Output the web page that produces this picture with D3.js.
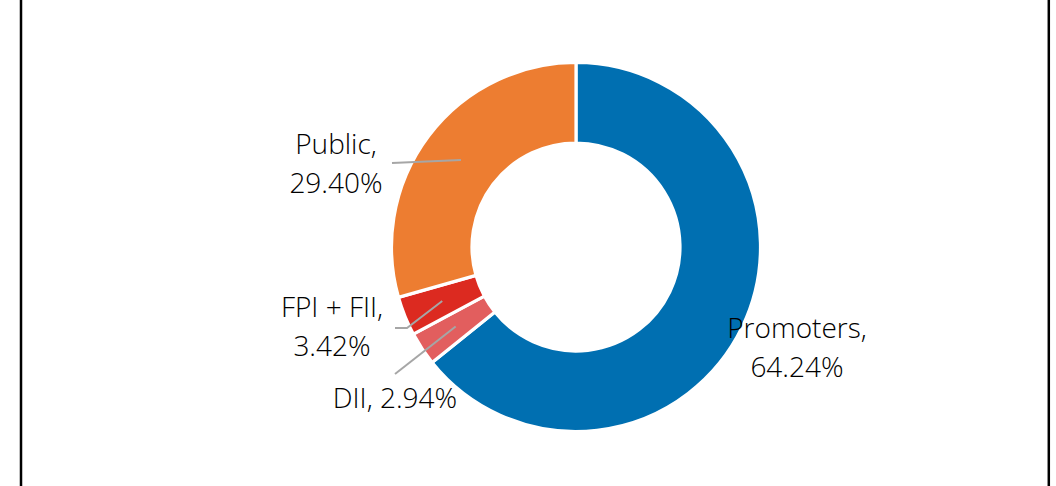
<!DOCTYPE html>
<html>
<head>
<meta charset="utf-8">
<script src="https://cdn.jsdelivr.net/npm/d3@7"></script>
<style>
  html, body { margin: 0; padding: 0; background: #fff; }
  svg { display: block; }
</style>
</head>
<body>
<svg id="chart" width="1056" height="486"></svg>
<script>
// Data
const categories = ["Promoters", "DII", "FPI + FII", "Public"];
const values = [64.24, 2.94, 3.42, 29.40];
const valueLabels = ["64.24%", "2.94%", "3.42%", "29.40%"];
const colors = ["#006FB1", "#E25E5E", "#DC2A20", "#ED7D31"];

// Layout (positions, not data)
const W = 1056, H = 486;
const cx = 576, cy = 247, rOuter = 184.5, rInner = 104;
const labelLayout = [
  { lines: [categories[0] + ",", valueLabels[0]], x: 797, y: 338, leader: null },
  { lines: [categories[1] + ", " + valueLabels[1]], x: 395, y: 408, leader: [[395, 374]] },
  { lines: [categories[2] + ",", valueLabels[2]], x: 332, y: 317, leader: [[395, 328], [407, 328]] },
  { lines: [categories[3] + ",", valueLabels[3]], x: 336, y: 154, leader: [[392, 163]] }
];

const svg = d3.select("#chart");

// Frame lines
svg.append("line").attr("x1", 21).attr("x2", 21).attr("y1", 0).attr("y2", H)
  .attr("stroke", "#000").attr("stroke-width", 2.5);
svg.append("line").attr("x1", 1048.8).attr("x2", 1048.8).attr("y1", 0).attr("y2", H)
  .attr("stroke", "#000").attr("stroke-width", 2.5);

const pie = d3.pie().sort(null).value(d => d)(values);
const arc = d3.arc().innerRadius(rInner).outerRadius(rOuter);

const g = svg.append("g").attr("transform", `translate(${cx},${cy})`);
g.selectAll("path.slice").data(pie).enter().append("path")
  .attr("class", "slice")
  .attr("d", arc)
  .attr("fill", (d, i) => colors[i])
  .attr("stroke", "#fff")
  .attr("stroke-width", 3.2)
  .attr("stroke-linejoin", "miter");

// Leader lines
pie.forEach((d, i) => {
  const lay = labelLayout[i];
  if (!lay.leader) return;
  const c = arc.centroid(d);
  const pts = lay.leader.concat([[cx + c[0], cy + c[1]]]);
  svg.append("path")
    .attr("d", d3.line()(pts))
    .attr("fill", "none")
    .attr("stroke", "#A6A6A6")
    .attr("stroke-width", 2);
});

// Labels
labelLayout.forEach((lay, i) => {
  const t = svg.append("text")
    .attr("x", lay.x).attr("y", lay.y)
    .attr("text-anchor", "middle")
    .attr("font-family", "'Open Sans', 'Noto Sans', sans-serif")
    .attr("font-weight", 300)
    .attr("font-size", 28)
    .attr("fill", "#000");
  lay.lines.forEach((ln, j) => {
    t.append("tspan").attr("x", lay.x).attr("dy", j === 0 ? 0 : 39).text(ln);
  });
});
</script>
</body>
</html>
